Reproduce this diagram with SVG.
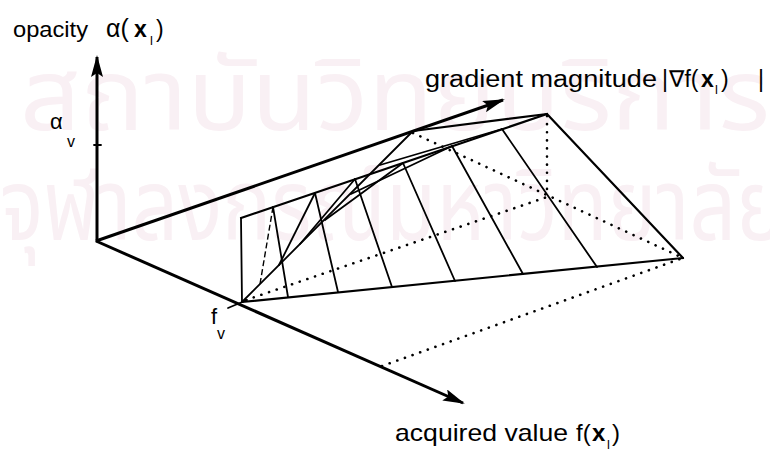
<svg xmlns="http://www.w3.org/2000/svg" width="770" height="451" viewBox="0 0 770 451">
  <defs>
    <marker id="arrow" markerUnits="userSpaceOnUse" markerWidth="22" markerHeight="12" refX="20" refY="6" orient="auto">
      <path d="M0,0 L22,6 L0,12 L4,6 z" fill="#000"/>
    </marker>
    <style>
      .wm { font-family: "Noto Sans Thai", "Noto Sans", "DejaVu Sans", sans-serif; fill: #f9f0f4; font-weight: normal; }
      .lbl { font-family: "Liberation Sans", Arial, "DejaVu Sans", sans-serif; fill: #000; }
      .b { font-weight: bold; }
      .axis { stroke: #000; stroke-width: 3; fill: none; }
      .edge { stroke: #000; stroke-width: 2.2; fill: none; stroke-linecap: round; }
      .rib { stroke: #000; stroke-width: 1.8; fill: none; stroke-linecap: round; }
      .thin { stroke: #000; stroke-width: 1.4; fill: none; stroke-dasharray: 6 3; }
      .dot { stroke: #000; stroke-width: 2.6; fill: none; stroke-linecap: round; stroke-dasharray: 0.1 8; }
    </style>
  </defs>
  <rect width="770" height="451" fill="#fff"/>

  <g id="watermark">
    <text class="wm" x="20" y="130" font-size="100" textLength="750" lengthAdjust="spacingAndGlyphs">สถาบันวิทยบริการ</text>
    <text class="wm" x="0" y="240" font-size="100" textLength="785" lengthAdjust="spacingAndGlyphs">จุฬาลงกรณ์มหาวิทยาลัย</text>
  </g>

  <g id="connectors">
    <line id="axis-opacity" class="axis" x1="97" y1="242" x2="97" y2="57" marker-end="url(#arrow)"/>
    <line id="axis-gradient" class="axis" x1="96" y1="241" x2="503" y2="100" marker-end="url(#arrow)"/>
    <line id="axis-value" class="axis" x1="96" y1="241" x2="463" y2="403" marker-end="url(#arrow)"/>
    <line class="rib" x1="94" y1="145" x2="101" y2="145"/>
    <line class="rib" x1="228" y1="308" x2="247" y2="300"/>
  </g>

  <g id="surface">
    <!-- hidden (dotted) lines -->
    <line class="dot" x1="547" y1="116" x2="547" y2="197"/>
    <line class="dot" x1="246" y1="300" x2="547" y2="197"/>
    <line class="dot" x1="413" y1="133" x2="683" y2="258"/>
    <line class="dot" x1="382" y1="366" x2="680" y2="259"/>
    <!-- outline -->
    <line class="rib" x1="241" y1="218" x2="242" y2="302"/>
    <line class="edge" x1="241" y1="218" x2="547" y2="114"/>
    <line class="rib" x1="242" y1="302" x2="413" y2="131"/>
    <line class="edge" x1="413" y1="131" x2="547" y2="114"/>
    <line class="edge" x1="547" y1="114" x2="683" y2="258"/>
    <line class="edge" x1="242" y1="302" x2="683" y2="258"/>
    <!-- ribs: right sides -->
    <line class="rib" x1="273" y1="207" x2="288" y2="297"/>
    <line class="rib" x1="315" y1="193" x2="338" y2="292"/>
    <line class="rib" x1="355" y1="179" x2="392" y2="287"/>
    <line class="rib" x1="403" y1="163" x2="455" y2="281"/>
    <line class="rib" x1="452" y1="146" x2="523" y2="274"/>
    <line class="rib" x1="502" y1="129" x2="597" y2="267"/>
    <!-- ribs: left sides -->
    <line class="thin" x1="273" y1="207" x2="260" y2="284"/>
    <line class="rib" x1="315" y1="193" x2="279" y2="265"/>
    <line class="rib" x1="355" y1="179" x2="300" y2="244"/>
    <line class="rib" x1="403" y1="163" x2="325" y2="220"/>
    <line class="rib" x1="452" y1="146" x2="351" y2="194"/>
    <line class="rib" x1="502" y1="129" x2="380" y2="165"/>
  </g>

  <g id="label-opacity">
    <text class="lbl" x="13" y="37" font-size="22" textLength="75" lengthAdjust="spacingAndGlyphs">opacity</text>
    <text class="lbl" x="106" y="37" font-size="25">α(</text>
    <text class="lbl b" x="134" y="37" font-size="23">x</text>
    <text class="lbl" x="150" y="45" font-size="13">l</text>
    <text class="lbl" x="156" y="37" font-size="23">)</text>
  </g>
  <g id="label-alpha-v">
    <text class="lbl" x="50" y="129" font-size="22">α</text>
    <text class="lbl" x="67" y="147" font-size="16">v</text>
  </g>
  <g id="label-gradient">
    <text class="lbl" x="425" y="87" font-size="23" textLength="232" lengthAdjust="spacingAndGlyphs">gradient magnitude</text>
    <text class="lbl" x="662" y="87" font-size="23">|</text>
    <text class="lbl" x="669" y="87" font-size="23">∇f(</text>
    <text class="lbl b" x="701" y="87" font-size="23">x</text>
    <text class="lbl" x="715" y="94" font-size="13">l</text>
    <text class="lbl" x="721" y="87" font-size="23">)</text>
    <text class="lbl" x="758" y="87" font-size="23">|</text>
  </g>
  <g id="label-fv">
    <text class="lbl" x="211" y="324" font-size="22">f</text>
    <text class="lbl" x="217" y="339" font-size="16">v</text>
  </g>
  <g id="label-value">
    <text class="lbl" x="395" y="441" font-size="24" textLength="173" lengthAdjust="spacingAndGlyphs">acquired value</text>
    <text class="lbl" x="576" y="441" font-size="24">f(</text>
    <text class="lbl b" x="592" y="441" font-size="24">x</text>
    <text class="lbl" x="607" y="449" font-size="13">l</text>
    <text class="lbl" x="612" y="441" font-size="24">)</text>
  </g>
</svg>
